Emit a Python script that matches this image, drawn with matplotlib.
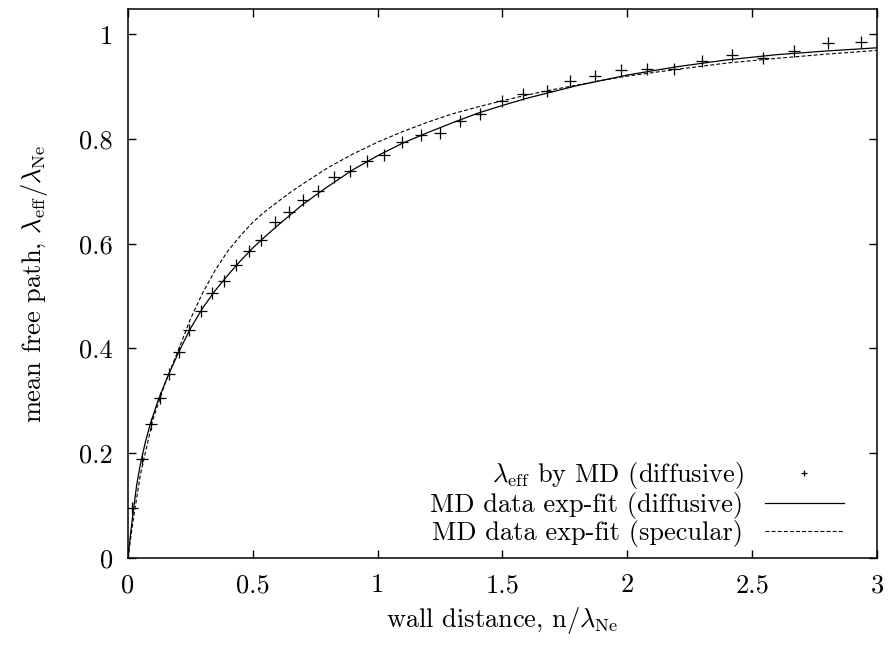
import matplotlib
matplotlib.use('Agg')
import matplotlib.pyplot as plt

plt.rcParams['font.family'] = 'serif'
plt.rcParams['font.serif'] = ['cmr10']
plt.rcParams['mathtext.fontset'] = 'cm'
plt.rcParams['axes.formatter.use_mathtext'] = True

# MD data points (diffusive walls)
md_x = [0.017, 0.055, 0.091, 0.129, 0.164, 0.204, 0.246, 0.291, 0.338, 0.384,
        0.433, 0.483, 0.534, 0.589, 0.645, 0.702, 0.762, 0.826, 0.889, 0.956,
        1.025, 1.099, 1.172, 1.248, 1.328, 1.410, 1.497, 1.583, 1.677, 1.770,
        1.870, 1.973, 2.077, 2.187, 2.301, 2.420, 2.542, 2.667, 2.802, 2.936]
md_y = [0.096, 0.189, 0.256, 0.305, 0.352, 0.394, 0.436, 0.471, 0.505, 0.529,
        0.559, 0.587, 0.608, 0.642, 0.661, 0.683, 0.700, 0.728, 0.739, 0.757,
        0.769, 0.795, 0.807, 0.812, 0.835, 0.847, 0.872, 0.886, 0.891, 0.911,
        0.920, 0.931, 0.934, 0.933, 0.948, 0.961, 0.954, 0.968, 0.983, 0.985]

# exp-fit curve, diffusive
dif_x = [0, 0.01, 0.02, 0.035, 0.05, 0.07, 0.09, 0.12, 0.155, 0.2, 0.25, 0.3,
         0.35, 0.4, 0.45, 0.5, 0.55, 0.6, 0.65, 0.7, 0.8, 0.9, 1.0, 1.1, 1.2,
         1.3, 1.4, 1.5, 1.6, 1.7, 1.8, 1.9, 2.0, 2.2, 2.4, 2.6, 2.8, 3.0]
dif_y = [0, 0.045, 0.085, 0.14, 0.18, 0.222, 0.257, 0.30, 0.342, 0.39, 0.438,
         0.478, 0.511, 0.540, 0.567, 0.592, 0.614, 0.635, 0.655, 0.675, 0.709,
         0.741, 0.768, 0.792, 0.812, 0.831, 0.849, 0.864, 0.878, 0.890, 0.902,
         0.912, 0.922, 0.938, 0.951, 0.961, 0.968, 0.974]

# exp-fit curve, specular
spe_x = [0, 0.02, 0.05, 0.1, 0.15, 0.2, 0.25, 0.3, 0.35, 0.4, 0.45, 0.5, 0.55,
         0.6, 0.65, 0.7, 0.8, 0.9, 1.0, 1.1, 1.2, 1.3, 1.4, 1.5, 1.6, 1.7, 1.8,
         1.9, 2.0, 2.2, 2.4, 2.6, 2.8, 3.0]
spe_y = [0, 0.07, 0.16, 0.265, 0.335, 0.395, 0.456, 0.507, 0.550, 0.586,
         0.615, 0.641, 0.662, 0.680, 0.698, 0.714, 0.745, 0.771, 0.794, 0.814,
         0.832, 0.848, 0.861, 0.873, 0.884, 0.894, 0.903, 0.912, 0.920, 0.933,
         0.945, 0.954, 0.962, 0.969]

xticks = [0, 0.5, 1, 1.5, 2, 2.5, 3]
xticklabels = ['0', '0.5', '1', '1.5', '2', '2.5', '3']
yticks = [0, 0.2, 0.4, 0.6, 0.8, 1]
yticklabels = ['0', '0.2', '0.4', '0.6', '0.8', '1']

fig = plt.figure(figsize=(8.9, 6.46), dpi=100)
ax = fig.add_axes([0.1438, 0.1362, 0.8416, 0.8498])

ax.plot(md_x, md_y, linestyle='none', marker='+', color='black',
        markersize=8, markeredgewidth=0.9,
        label=r'$\lambda_{\rm eff}$ by MD (diffusive)')
ax.plot(dif_x, dif_y, color='black', linewidth=0.9,
        label='MD data exp-fit (diffusive)')
ax.plot(spe_x, spe_y, color='black', linewidth=0.8, dashes=(3.5, 2),
        label='MD data exp-fit (specular)')

ax.set_xlim(0, 3)
ax.set_ylim(0, 1.048)
ax.set_xticks(xticks)
ax.set_xticklabels(xticklabels)
ax.set_yticks(yticks)
ax.set_yticklabels(yticklabels)
ax.tick_params(axis='both', direction='in', top=True, right=True,
               length=6, width=1, labelsize=19, pad=11)
for s in ax.spines.values():
    s.set_linewidth(1.1)

ax.set_xlabel(r'wall distance, n/$\lambda_{\rm Ne}$', fontsize=19, labelpad=6)
ax.set_ylabel(r'mean free path, $\lambda_{\rm eff}/\lambda_{\rm Ne}$',
              fontsize=19, labelpad=21)

leg = ax.legend(loc='lower right', bbox_to_anchor=(0.9696, 0.0),
                frameon=False, markerfirst=False,
                fontsize=19, handlelength=3.0, handletextpad=0.8,
                labelspacing=0.04, borderaxespad=0.0)
leg.legend_handles[0].set_markersize(5)

fig.savefig('out.png', dpi=100)
